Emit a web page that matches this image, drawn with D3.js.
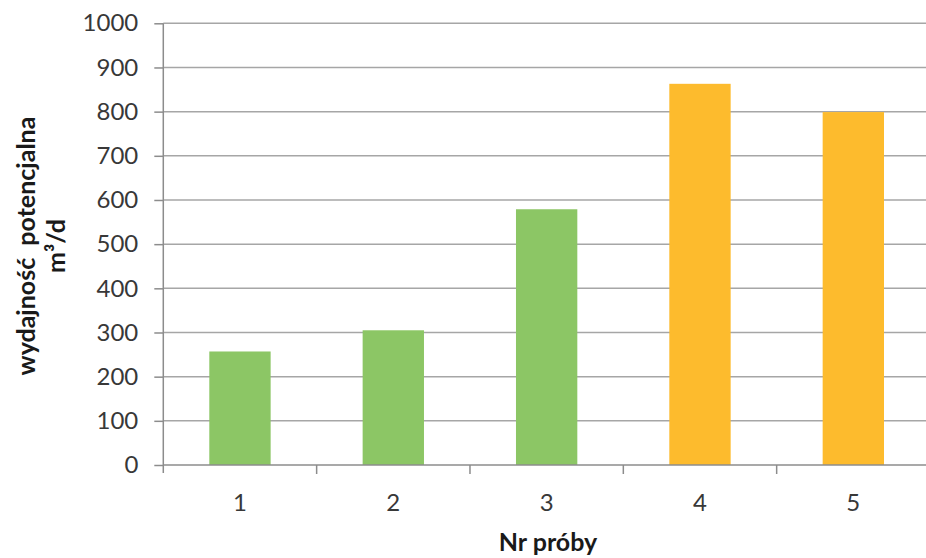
<!DOCTYPE html>
<html>
<head>
<meta charset="utf-8">
<script src="https://cdn.jsdelivr.net/npm/d3@7/dist/d3.min.js"></script>
<style>
html,body{margin:0;padding:0;background:#fff;}
svg{display:block;}
</style>
</head>
<body>
<svg id="chart" width="926" height="558"></svg>
<script>
const categories = ["1","2","3","4","5"];
const values = [257, 305, 579, 863, 799];
const barColors = ["#8cc665","#8cc665","#8cc665","#fdbb2d","#fdbb2d"];
const yTicks = [0,100,200,300,400,500,600,700,800,900,1000];
const yTitle1 = "wydajność  potencjalna";
const yTitle2 = "m³/d";
const xTitle = "Nr próby";

const svg = d3.select("#chart");
const mLeft = 163.3, mRight = 930, mTop = 23.3, mBottom = 465;

const x = d3.scaleBand().domain(categories).range([mLeft, mRight]).paddingInner(0.6).paddingOuter(0.3);
const y = d3.scaleLinear().domain([0, 1000]).range([mBottom, mTop]);

const font = "Lato, 'Open Sans', sans-serif";

// gridlines
svg.append("g").selectAll("line").data(yTicks.filter(d => d > 0)).join("line")
  .attr("x1", mLeft).attr("x2", 926)
  .attr("y1", d => y(d)).attr("y2", d => y(d))
  .attr("stroke", "#a6a6a6").attr("stroke-width", 1.5);

// bars
svg.append("g").selectAll("rect").data(values).join("rect")
  .attr("x", (d, i) => x(categories[i]))
  .attr("width", x.bandwidth())
  .attr("y", d => y(d))
  .attr("height", d => y(0) - y(d))
  .attr("fill", (d, i) => barColors[i]);

// y axis
const yAxis = d3.axisLeft(y).tickValues(yTicks).tickSize(9).tickPadding(16).tickFormat(d3.format("d"));
const gy = svg.append("g").attr("transform", `translate(${mLeft},0)`).call(yAxis);
gy.select(".domain").attr("stroke", "#8c8c8c").attr("stroke-width", 1.5).attr("d", `M0,${mTop}V${mBottom + 8}`);
gy.selectAll(".tick line").attr("stroke", "#8c8c8c").attr("stroke-width", 1.5);
gy.selectAll(".tick text").attr("font-family", font).attr("font-size", 24).attr("fill", "#383838");

// x axis
const gx = svg.append("g").attr("transform", `translate(0,${mBottom})`);
gx.append("line").attr("x1", mLeft).attr("x2", 926).attr("y1", 0).attr("y2", 0)
  .attr("stroke", "#8c8c8c").attr("stroke-width", 1.5);
const boundaries = categories.slice(1).map(c => x(c) - x.step() * x.paddingInner() / 2);
gx.selectAll("line.tk").data(boundaries).join("line").attr("class", "tk")
  .attr("x1", d => d).attr("x2", d => d).attr("y1", 0).attr("y2", 9)
  .attr("stroke", "#8c8c8c").attr("stroke-width", 1.5);
gx.selectAll("text").data(categories).join("text")
  .attr("x", d => x(d) + x.bandwidth() / 2).attr("y", 46)
  .attr("text-anchor", "middle").attr("font-family", font).attr("font-size", 24).attr("fill", "#383838")
  .text(d => d);

// titles
svg.append("text").attr("x", 548).attr("y", 551).attr("text-anchor", "middle")
  .attr("font-family", font).attr("font-weight", "bold").attr("font-size", 25).attr("fill", "#1a1a1a")
  .text(xTitle);

const yt = svg.append("g").attr("transform", "translate(0,246) rotate(-90)");
yt.append("text").attr("x", 0).attr("y", 35).attr("text-anchor", "middle")
  .attr("font-family", font).attr("font-weight", "bold").attr("font-size", 25).attr("fill", "#1a1a1a")
  .style("white-space", "pre")
  .text(yTitle1);
yt.append("text").attr("x", 0).attr("y", 65).attr("text-anchor", "middle")
  .attr("font-family", font).attr("font-weight", "bold").attr("font-size", 25).attr("fill", "#1a1a1a")
  .text(yTitle2);
</script>
</body>
</html>
